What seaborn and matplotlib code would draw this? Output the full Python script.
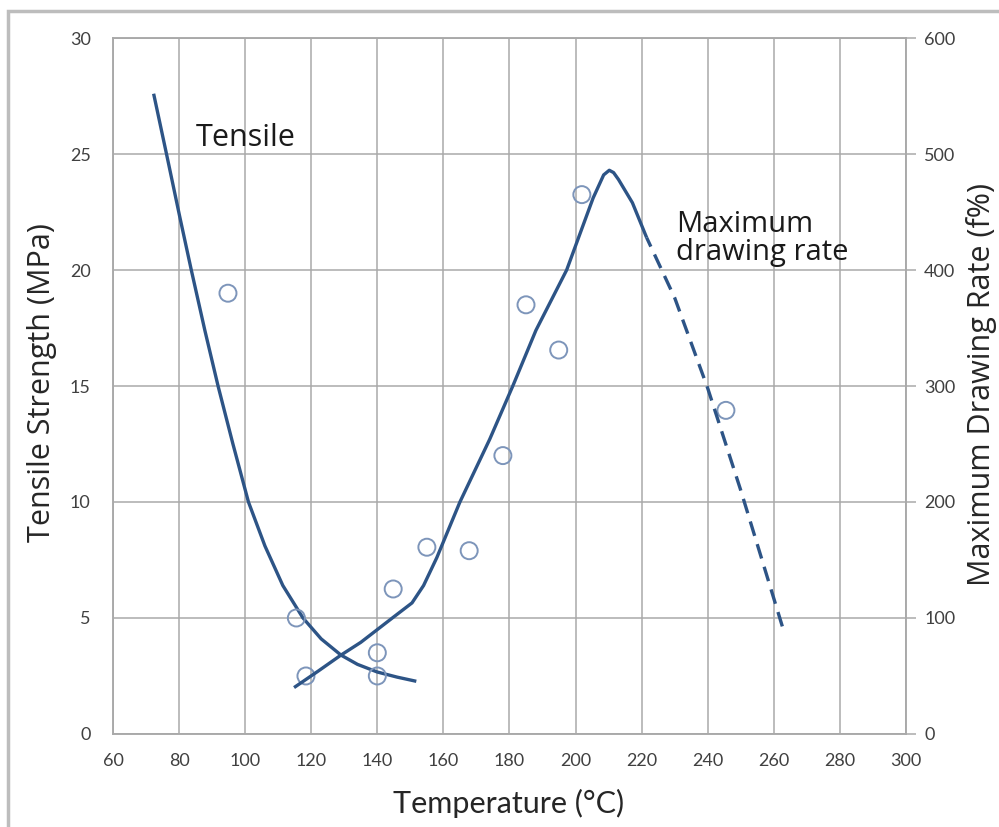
import seaborn as sns
import matplotlib.pyplot as plt
from matplotlib.patches import Rectangle

# tensile strength curve (MPa)
tensile_temp = [72.3, 76.2, 80.2, 83.7, 87.8, 91.8, 96.3, 101, 106, 111.4, 117.5, 123, 129, 134, 140, 146, 151.8]
tensile_mpa = [27.6, 25.0, 22.3, 20.0, 17.4, 15.0, 12.5, 10.0, 8.1, 6.4, 5.0, 4.1, 3.4, 3.0, 2.67, 2.45, 2.27]

# maximum drawing rate (f%), solid part
draw_temp = [114.8, 122, 129, 135, 140, 145, 150.5, 154, 158, 165, 174, 181, 188, 197.3, 205.3,
             208.5, 210.2, 211.5, 213, 217.2, 221.5]
draw_rate = [40, 54, 68, 79, 90, 101, 113, 128, 152, 200, 254, 300, 348, 400, 462,
             482, 486, 484, 478, 458, 428]

# maximum drawing rate (f%), dashed part
dash_temp = [221.5, 230, 240, 250, 263.3]
dash_rate = [428, 376, 298, 210, 86]

# measured points (MPa scale)
pt_temp = [94.8, 115.5, 118.4, 140, 140, 144.8, 155, 167.8, 178, 185, 194.9, 201.9, 245.5]
pt_mpa = [19.0, 5.0, 2.5, 3.5, 2.5, 6.25, 8.05, 7.9, 12.0, 18.5, 16.55, 23.25, 13.95]

x_ticks = list(range(60, 301, 20))
left_ticks = list(range(0, 31, 5))
right_ticks = list(range(0, 601, 100))

sns.set_theme(style='white')
plt.rcParams['font.family'] = ['Lato', 'DejaVu Sans']

line_col = '#2d5486'
pt_col = '#7d95ba'
grid_col = '#a9a9a9'
tick_col = '#404040'
txt_font = ['Open Sans', 'DejaVu Sans']

fig = plt.figure(figsize=(9.99, 8.27), dpi=100)
ax = fig.add_axes([0.1131, 0.1125, 0.7938, 0.8415])
ax2 = ax.twinx()

sns.lineplot(x=tensile_temp, y=tensile_mpa, ax=ax, color=line_col, lw=2.4, sort=False,
             solid_joinstyle='round', solid_capstyle='butt')
sns.scatterplot(x=pt_temp, y=pt_mpa, ax=ax, marker='o', s=150, facecolor='none',
                edgecolor=pt_col, linewidth=1.4, zorder=3)
sns.lineplot(x=draw_temp, y=draw_rate, ax=ax2, color=line_col, lw=2.4, sort=False,
             solid_joinstyle='round', solid_capstyle='butt')
sns.lineplot(x=dash_temp, y=dash_rate, ax=ax2, color=line_col, lw=2.4, sort=False,
             linestyle=(1.5, (4.5, 2.6)))

ax.set_xlim(60, 300)
ax.set_ylim(0, 30)
ax2.set_ylim(0, 600)
ax.set_xticks(x_ticks)
ax.set_yticks(left_ticks)
ax2.set_yticks(right_ticks)

ax.grid(True, color=grid_col, lw=1.1)
ax2.grid(False)
for a in (ax, ax2):
    for s in a.spines.values():
        s.set_color(grid_col)
        s.set_linewidth(1.1)

ax.tick_params(axis='both', length=0, labelsize=13, labelcolor=tick_col)
ax.tick_params(axis='x', pad=14)
ax.tick_params(axis='y', pad=16)
ax2.tick_params(axis='y', right=True, length=7, width=1.1, color=grid_col,
                labelsize=13, labelcolor=tick_col, pad=6)

ax.set_xlabel('')
ax.set_ylabel('')
ax2.set_ylabel('')

ax.text(85, 25.35, 'Tensile', fontsize=22, family=txt_font, color='#1a1a1a', va='baseline')
ax.text(230.5, 21.65, 'Maximum', fontsize=21, family=txt_font, color='#1a1a1a', va='baseline')
ax.text(230.5, 20.42, 'drawing rate', fontsize=21, family=txt_font, color='#1a1a1a', va='baseline')

fig.text(0.509, 0.029, 'Temperature (°C)', fontsize=22, color='#262626',
         ha='center', va='center')
fig.text(0.042, 0.537, 'Tensile Strength (MPa)', fontsize=22, family=txt_font, color='#262626',
         ha='center', va='center', rotation=90)
fig.text(0.982, 0.535, 'Maximum Drawing Rate (f%)', fontsize=22, family=txt_font, color='#262626',
         ha='center', va='center', rotation=90)

fig.patches.append(Rectangle((8 / 999, -0.1), 1.2, 0.9867 + 0.1, transform=fig.transFigure,
                             fill=False, ec='#bdbdbd', lw=2.5))

fig.savefig('out.png', dpi=100)
